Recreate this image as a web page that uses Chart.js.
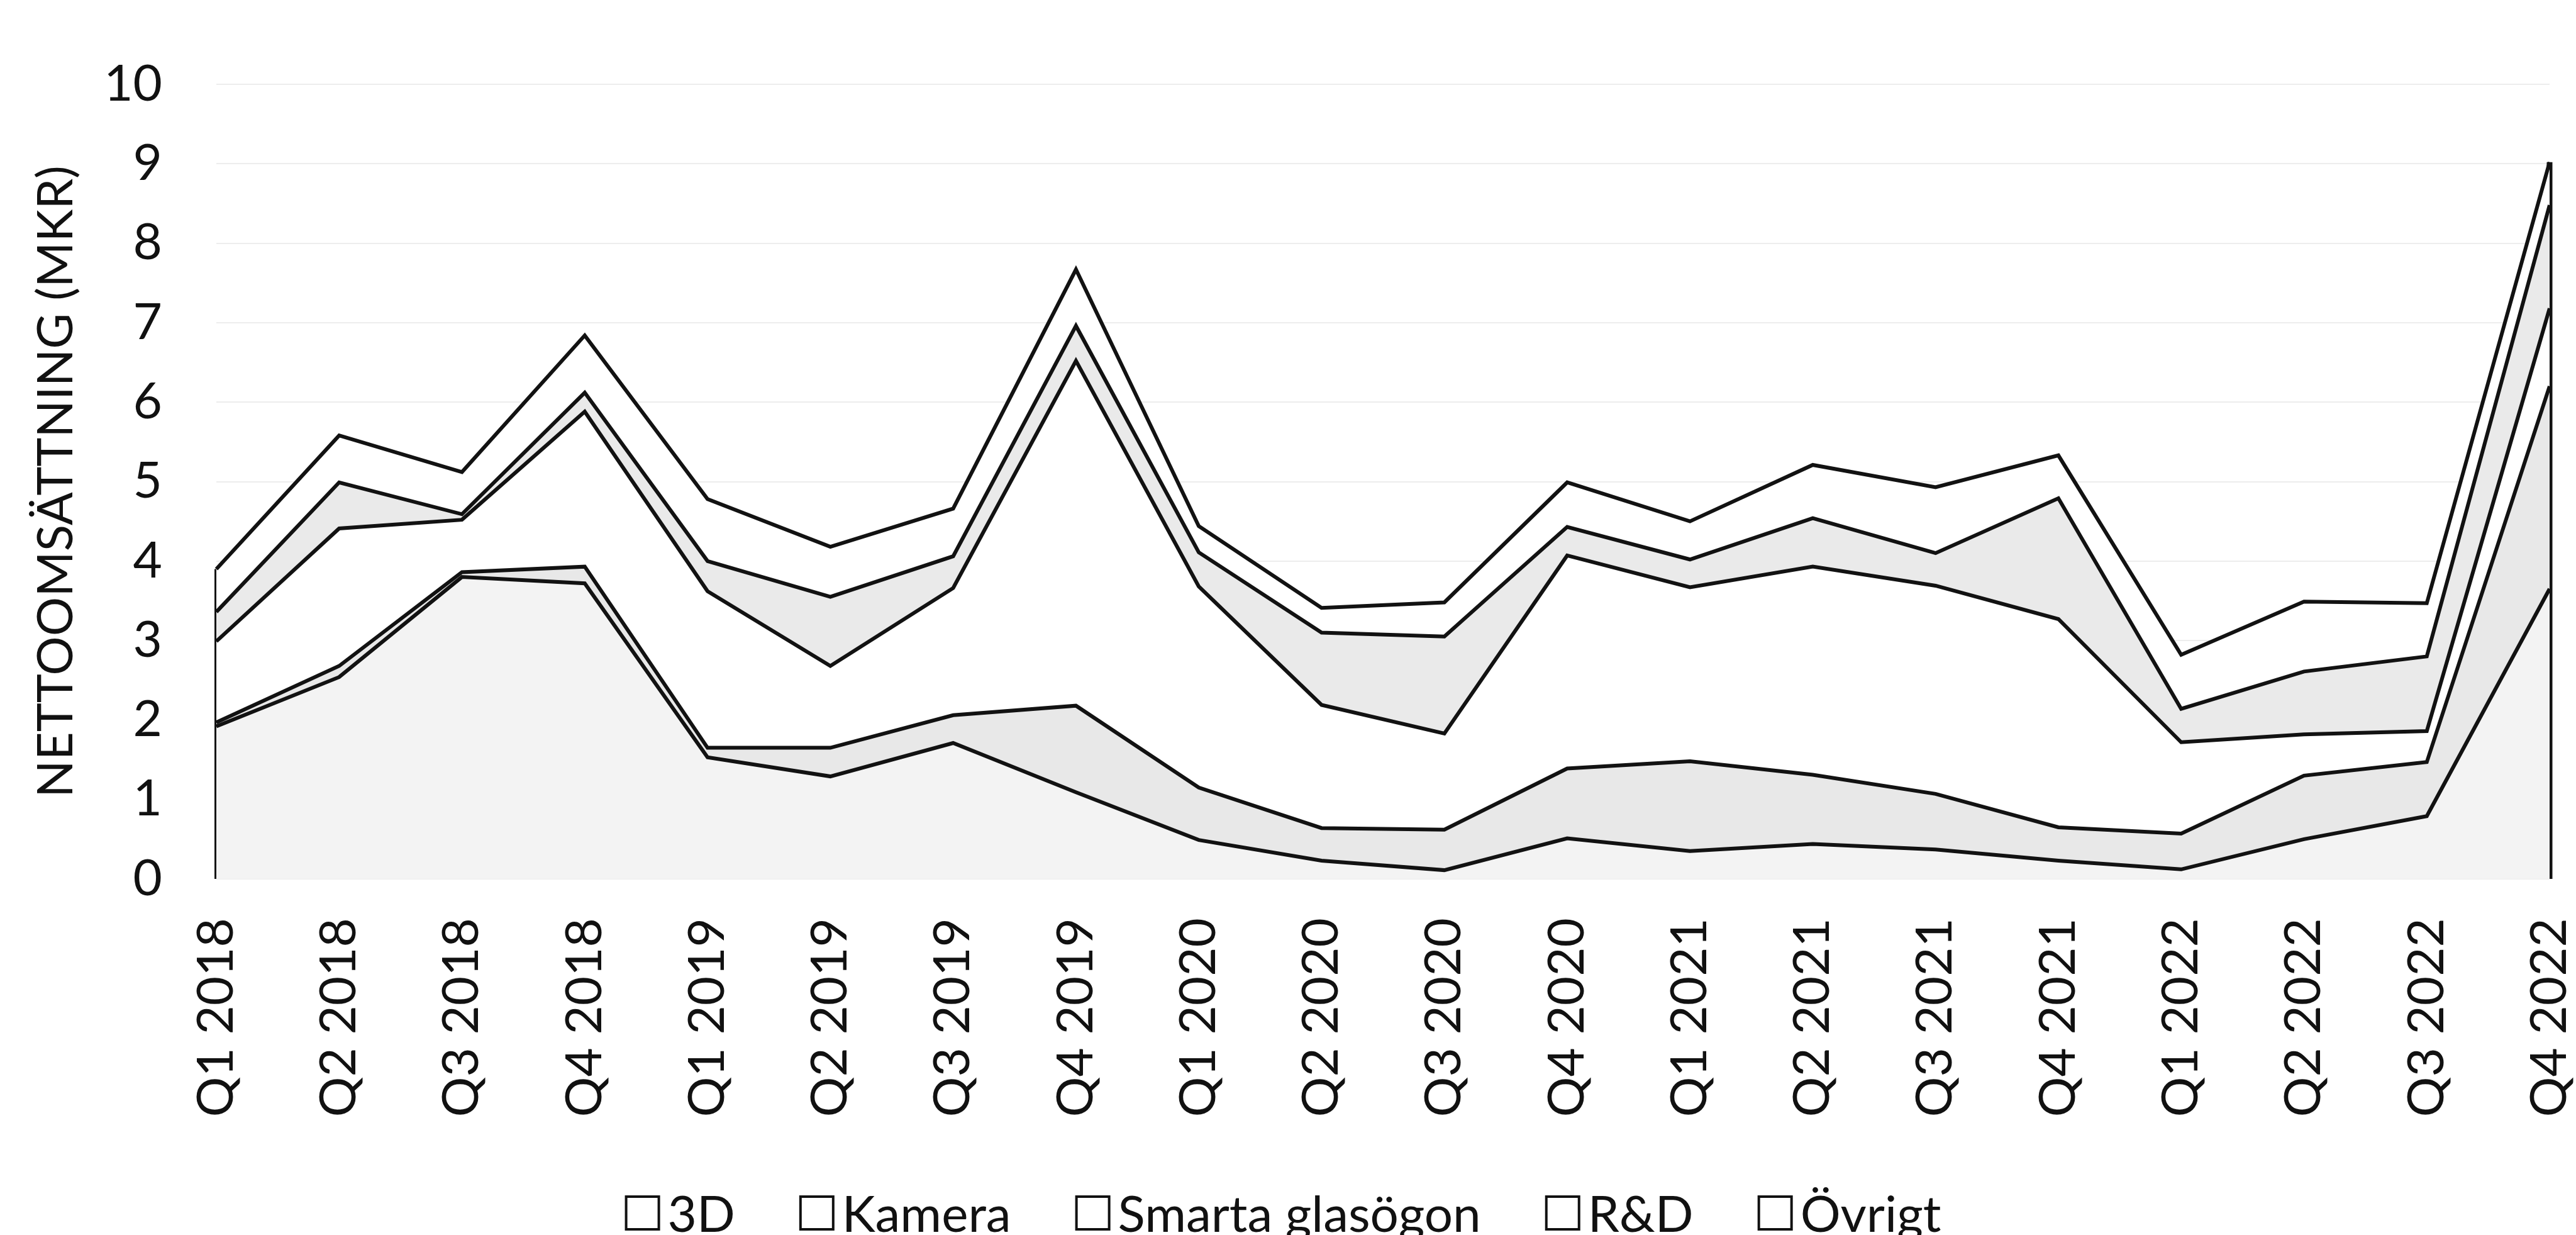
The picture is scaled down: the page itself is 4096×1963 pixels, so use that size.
<!DOCTYPE html>
<html>
<head>
<meta charset="utf-8">
<script src="https://cdn.jsdelivr.net/npm/chart.js@4.4.0/dist/chart.umd.min.js"></script>
<style>
html,body{margin:0;padding:0;background:#ffffff;overflow:hidden}
#wrap{width:4096px;height:1963px;position:relative}
</style>
</head>
<body>
<div id="wrap"><canvas id="c" width="4096" height="1963"></canvas></div>
<script>
// ---- data ----
const categories = ['Q1 2018','Q2 2018','Q3 2018','Q4 2018','Q1 2019','Q2 2019','Q3 2019','Q4 2019',
  'Q1 2020','Q2 2020','Q3 2020','Q4 2020','Q1 2021','Q2 2021','Q3 2021','Q4 2021',
  'Q1 2022','Q2 2022','Q3 2022','Q4 2022'];
const seriesNames = ['3D','Kamera','Smarta glasögon','R&D','Övrigt'];
const values3D     = [1.92,2.54,3.80,3.72,1.53,1.29,1.71,1.09,0.49,0.23,0.11,0.51,0.35,0.44,0.37,0.23,0.12,0.50,0.79,3.65];
const valuesKamera = [0.05,0.14,0.06,0.21,0.12,0.36,0.35,1.09,0.66,0.41,0.51,0.88,1.13,0.87,0.70,0.42,0.45,0.80,0.68,2.55];
const valuesSmarta = [1.02,1.73,0.66,1.95,1.97,1.03,1.60,4.34,2.53,1.55,1.21,2.68,2.19,2.62,2.62,2.62,1.15,0.52,0.39,0.98];
const valuesRD     = [0.37,0.58,0.07,0.24,0.38,0.87,0.40,0.44,0.43,0.91,1.22,0.36,0.35,0.61,0.41,1.52,0.42,0.79,0.94,1.30];
const valuesOvrigt = [0.54,0.59,0.53,0.72,0.78,0.63,0.60,0.71,0.33,0.31,0.43,0.56,0.48,0.67,0.83,0.54,0.68,0.88,0.67,0.54];
const yTicks = [0,1,2,3,4,5,6,7,8,9,10];
const yTitle = 'NETTOOMSÄTTNING (MKR)';

// ---- styles ----
const seriesValues = [values3D, valuesKamera, valuesSmarta, valuesRD, valuesOvrigt];
const fillColors = ['#f3f3f3', '#e8e8e8', '#ffffff', '#eaeaea', '#ffffff'];
const lineColor = '#121212';
const FONT = 'Lato, "Open Sans", sans-serif';

const totals = categories.map((_, j) => seriesValues.reduce((s, arr) => s + arr[j], 0));
const lastIdx = categories.length - 1;

const datasets = seriesNames.map((name, i) => ({
  label: name,
  data: seriesValues[i],
  stack: 'main',
  fill: i === 0 ? 'origin' : '-1',
  backgroundColor: fillColors[i],
  borderColor: lineColor,
  borderWidth: 6,
  pointRadius: 0,
  tension: 0,
  clip: false
}));
// outline edges of the stacked area (first and last quarter)
datasets.push({
  label: 'edgeLeft', isEdge: true, stack: 'edgeL', fill: false,
  data: [{x: categories[0], y: 0}, {x: categories[0], y: totals[0]}],
  borderColor: lineColor, borderWidth: 6, pointRadius: 0, clip: false
});
datasets.push({
  label: 'edgeRight', isEdge: true, stack: 'edgeR', fill: false,
  data: [{x: categories[lastIdx], y: 0}, {x: categories[lastIdx], y: totals[lastIdx]}],
  borderColor: lineColor, borderWidth: 9, pointRadius: 0, clip: false
});

const legendPlugin = {
  id: 'customLegend',
  afterDraw(chart, args, opts) {
    const ctx = chart.ctx;
    const items = chart.data.datasets.filter(d => !d.isEdge);
    ctx.save();
    ctx.font = opts.fontSize + 'px ' + FONT;
    const widths = items.map(d => ctx.measureText(d.label).width);
    let total = 0;
    widths.forEach((w, i) => { total += opts.box + opts.boxGap + w + (i ? opts.itemGap : 0); });
    let x = opts.centerX - total / 2;
    items.forEach((d, i) => {
      ctx.fillStyle = '#ffffff';
      ctx.fillRect(x, opts.boxTop, opts.box, opts.box);
      ctx.strokeStyle = '#111111';
      ctx.lineWidth = 4;
      ctx.strokeRect(x, opts.boxTop, opts.box, opts.box);
      ctx.fillStyle = '#111111';
      ctx.textBaseline = 'alphabetic';
      ctx.textAlign = 'left';
      ctx.fillText(d.label, x + opts.box + opts.boxGap, opts.baseline);
      x += opts.box + opts.boxGap + widths[i] + opts.itemGap;
    });
    ctx.restore();
  }
};

function build() {
  new Chart(document.getElementById('c'), {
    type: 'line',
    data: { labels: categories, datasets },
    plugins: [legendPlugin],
    options: {
      responsive: false,
      animation: false,
      devicePixelRatio: 1,
      events: [],
      layout: { padding: { top: 88, right: 42, bottom: 136, left: 0 } },
      plugins: {
        legend: { display: false },
        tooltip: { enabled: false },
        customLegend: { fontSize: 80, box: 52, boxGap: 14, itemGap: 104, centerX: 2041, boxTop: 1902, baseline: 1958 }
      },
      scales: {
        x: {
          type: 'category',
          offset: false,
          grid: { display: false, drawTicks: false },
          border: { display: false },
          ticks: {
            autoSkip: false, minRotation: 90, maxRotation: 90, padding: 62,
            color: '#111111', font: { family: FONT, size: 80 }
          },
          afterFit(scale) { scale.height = 430; scale.paddingLeft = 0; scale.paddingRight = 0; }
        },
        y: {
          stacked: true,
          min: 0, max: 10,
          afterBuildTicks(scale) { scale.ticks = yTicks.map(v => ({ value: v })); },
          grid: { color: 'rgba(0,0,0,0.07)', lineWidth: 2, drawTicks: false },
          border: { display: false },
          ticks: { padding: 86, color: '#111111', font: { family: FONT, size: 80 } },
          title: { display: true, text: yTitle, color: '#111111', font: { family: FONT, size: 78 }, padding: { top: 43, bottom: 0 } },
          afterFit(scale) { scale.width = 344; }
        }
      }
    }
  });
}
if (document.fonts && document.fonts.load) {
  document.fonts.load('80px Lato').then(build, build);
} else { build(); }
</script>
</body>
</html>
